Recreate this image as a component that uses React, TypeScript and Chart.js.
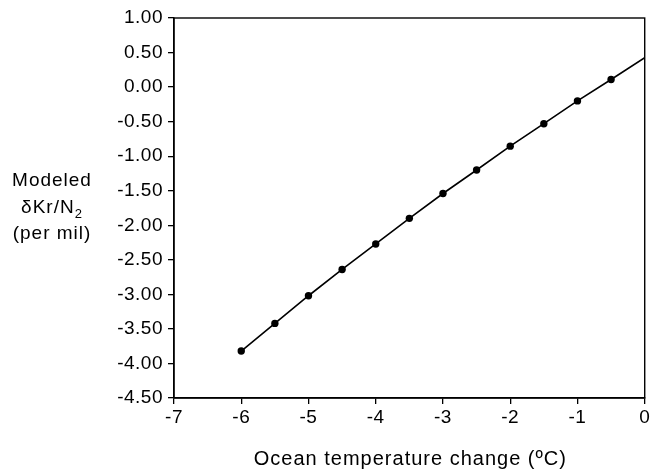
import React, { useEffect, useRef } from "react";
import { Chart, registerables } from "chart.js";

Chart.register(...registerables);

// Ocean temperature change (°C) for the modeled points
const tempChange = [-6, -5.5, -5, -4.5, -4, -3.5, -3, -2.5, -2, -1.5, -1, -0.5];
// Modeled δKr/N2 (per mil)
const modeledKrN2 = [-3.82, -3.42, -3.02, -2.64, -2.27, -1.9, -1.54, -1.2, -0.855, -0.53, -0.2, 0.11];
// Curve end at 0 °C
const curveEndX = [0];
const curveEndY = [0.425];

const xTicks = [-7, -6, -5, -4, -3, -2, -1, 0];
const yMin = -4.5;
const yMax = 1.0;
const yStep = 0.5;

const FONT = 'Arial, "Liberation Sans", Helvetica, sans-serif';

const spacingPlugin = {
  id: "spacingPlugin",
  beforeDraw(chart: any) {
    try {
      (chart.ctx as any).letterSpacing = "0.5px";
    } catch (e) {
      /* ignore */
    }
  },
};

const titlesPlugin = {
  id: "titlesPlugin",
  afterDraw(chart: any) {
    const { ctx, chartArea } = chart;
    ctx.save();
    // frame
    ctx.strokeStyle = "#000";
    ctx.lineWidth = 1.4;
    ctx.strokeRect(chartArea.left, chartArea.top, chartArea.right - chartArea.left, chartArea.bottom - chartArea.top);

    try {
      (ctx as any).letterSpacing = "1px";
    } catch (e) {
      /* ignore */
    }
    ctx.fillStyle = "#000";
    ctx.textBaseline = "middle";
    ctx.textAlign = "center";
    ctx.font = `19px ${FONT}`;
    const cx = 52;
    ctx.fillText("Modeled", cx, 181);
    // δKr/N₂ with subscript
    const main = "\u03B4Kr/N";
    ctx.font = `19px ${FONT}`;
    const w1 = ctx.measureText(main).width;
    ctx.font = `13px ${FONT}`;
    const w2 = ctx.measureText("2").width;
    const start = cx - (w1 + w2) / 2;
    ctx.textAlign = "left";
    ctx.font = `19px ${FONT}`;
    ctx.fillText(main, start, 208);
    ctx.font = `13px ${FONT}`;
    ctx.fillText("2", start + w1, 214);
    ctx.textAlign = "center";
    ctx.font = `19px ${FONT}`;
    ctx.fillText("(per mil)", cx, 234);

    // x title
    ctx.font = `20px ${FONT}`;
    ctx.fillText("Ocean temperature change (\u00BAC)", (chartArea.left + chartArea.right) / 2 + 1, 459);
    ctx.restore();
  },
};

export default function App() {
  const canvasRef = useRef<HTMLCanvasElement | null>(null);

  useEffect(() => {
    document.body.style.margin = "0";
    const canvas = canvasRef.current;
    if (!canvas) return;

    const pts = tempChange.map((x, i) => ({ x, y: modeledKrN2[i] }));
    const curve = [...pts, ...curveEndX.map((x, i) => ({ x, y: curveEndY[i] }))];

    const chart = new Chart(canvas, {
      type: "scatter",
      data: {
        datasets: [
          {
            type: "line",
            data: curve,
            borderColor: "#000",
            borderWidth: 1.6,
            pointRadius: 0,
            fill: false,
            tension: 0,
          } as any,
          {
            type: "scatter",
            data: pts,
            backgroundColor: "#000",
            borderColor: "#000",
            pointRadius: 3.7,
            borderWidth: 0,
          },
        ],
      },
      options: {
        animation: false,
        responsive: false,
        maintainAspectRatio: false,
        layout: { padding: { top: 18, right: 7, left: 0, bottom: 0 } },
        plugins: {
          legend: { display: false },
          tooltip: { enabled: false },
        },
        scales: {
          x: {
            type: "linear",
            min: -7,
            max: 0,
            afterBuildTicks: (scale: any) => {
              scale.ticks = xTicks.map((v) => ({ value: v }));
            },
            afterFit: (scale: any) => {
              scale.height = 77;
            },
            grid: {
              drawOnChartArea: false,
              drawTicks: true,
              tickLength: 6,
              color: "#000",
              lineWidth: 1.3,
            },
            border: { display: true, color: "#000", width: 1.4 },
            ticks: {
              color: "#000",
              font: { family: FONT, size: 19 },
              padding: 2,
              maxRotation: 0,
              autoSkip: false,
              callback: (v: any) => String(v),
            },
          },
          y: {
            type: "linear",
            min: yMin,
            max: yMax,
            afterFit: (scale: any) => {
              scale.width = 174;
            },
            grid: {
              drawOnChartArea: false,
              drawTicks: true,
              tickLength: 6,
              color: "#000",
              lineWidth: 1.3,
            },
            border: { display: true, color: "#000", width: 1.4 },
            ticks: {
              stepSize: yStep,
              color: "#000",
              font: { family: FONT, size: 19 },
              padding: 5,
              autoSkip: false,
              callback: (v: any) => Number(v).toFixed(2),
            },
          },
        },
      },
      plugins: [spacingPlugin, titlesPlugin],
    });

    return () => chart.destroy();
  }, []);

  return (
    <div style={{ width: 652, height: 475 }}>
      <canvas ref={canvasRef} width={652} height={475} style={{ display: "block" }} />
    </div>
  );
}
